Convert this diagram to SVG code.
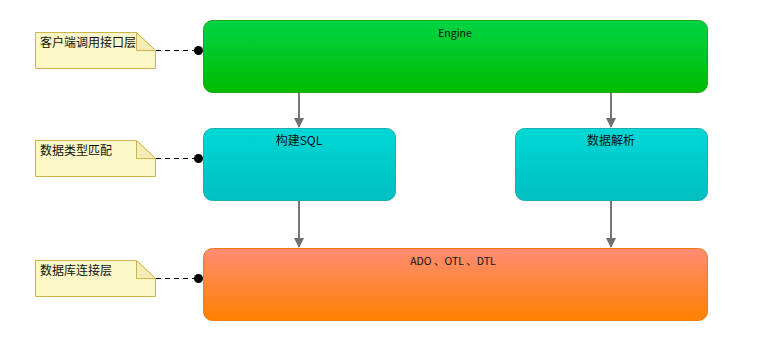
<svg xmlns="http://www.w3.org/2000/svg" width="767" height="346" viewBox="0 0 767 346">
<defs>
<linearGradient id="gGreen" x1="0" y1="0" x2="0" y2="1"><stop offset="0" stop-color="#00d444"/><stop offset="1" stop-color="#00bb00"/></linearGradient>
<linearGradient id="gCyan" x1="0" y1="0" x2="0" y2="1"><stop offset="0" stop-color="#00d8d6"/><stop offset="1" stop-color="#00bfc0"/></linearGradient>
<linearGradient id="gOrange" x1="0" y1="0" x2="0" y2="1"><stop offset="0" stop-color="#ff8c74"/><stop offset="1" stop-color="#ff8000"/></linearGradient>
<marker id="ah" markerWidth="11" markerHeight="10" refX="9" refY="5" orient="auto" markerUnits="userSpaceOnUse">
<path d="M0,0 L10,5 L0,10 Z" fill="#707070"/>
</marker>
</defs>
<style>
.t{font-family:"Noto Sans CJK SC","Liberation Sans",sans-serif;fill:#111;}
.n{fill:#fbf7c6;stroke:#cdb54a;stroke-width:1;}
.f{fill:#f3ecb4;stroke:#cdb54a;stroke-width:1;}
.d{stroke:#000;stroke-width:1;stroke-dasharray:5,4;fill:none;}
.c{stroke:#777;stroke-width:2;fill:none;}
</style>
<g id="engine">
<rect x="203.5" y="20.5" width="504" height="72" rx="9" fill="url(#gGreen)" stroke="#1aa51a"/>
<text class="t" x="455" y="37" font-size="10.5" text-anchor="middle">Engine</text>
</g>
<g id="buildsql">
<rect x="203.5" y="128.5" width="192" height="72" rx="9" fill="url(#gCyan)" stroke="#1aaeb0"/>
<text class="t" x="299" y="145" font-size="12" text-anchor="middle">构建SQL</text>
</g>
<g id="parse">
<rect x="515.5" y="128.5" width="192" height="72" rx="9" fill="url(#gCyan)" stroke="#1aaeb0"/>
<text class="t" x="611" y="145" font-size="12" text-anchor="middle">数据解析</text>
</g>
<g id="db">
<rect x="203.5" y="248.5" width="504" height="72" rx="9" fill="url(#gOrange)" stroke="#ee7a10"/>
<text class="t" x="453" y="265" font-size="10.5" text-anchor="middle">ADO 、OTL 、DTL</text>
</g>
<g id="note1">
<path class="n" d="M35.5,32.5 H136.5 L155.5,50.5 V68.5 H35.5 Z"/>
<path class="f" d="M136.5,32.5 V50.5 H155.5 Z"/>
<text class="t" x="40" y="47" font-size="12">客户端调用接口层</text>
</g>
<g id="note2">
<path class="n" d="M35.5,140.5 H136.5 L155.5,158.5 V176.5 H35.5 Z"/>
<path class="f" d="M136.5,140.5 V158.5 H155.5 Z"/>
<text class="t" x="40" y="155" font-size="12">数据类型匹配</text>
</g>
<g id="note3">
<path class="n" d="M35.5,260.5 H136.5 L155.5,278.5 V296.5 H35.5 Z"/>
<path class="f" d="M136.5,260.5 V278.5 H155.5 Z"/>
<text class="t" x="40" y="275" font-size="12">数据库连接层</text>
</g>
<g id="connectors">
<line class="d" x1="156" y1="50.5" x2="198" y2="50.5"/>
<circle cx="198.5" cy="50.5" r="4.5" fill="#000"/>
<line class="d" x1="156" y1="158.5" x2="198" y2="158.5"/>
<circle cx="198.5" cy="158.5" r="4.5" fill="#000"/>
<line class="d" x1="156" y1="278.5" x2="198" y2="278.5"/>
<circle cx="198.5" cy="278.5" r="4.5" fill="#000"/>
<line class="c" x1="299" y1="93" x2="299" y2="127" marker-end="url(#ah)"/>
<line class="c" x1="611" y1="93" x2="611" y2="127" marker-end="url(#ah)"/>
<line class="c" x1="299" y1="201" x2="299" y2="247" marker-end="url(#ah)"/>
<line class="c" x1="611" y1="201" x2="611" y2="247" marker-end="url(#ah)"/>
</g>
</svg>
